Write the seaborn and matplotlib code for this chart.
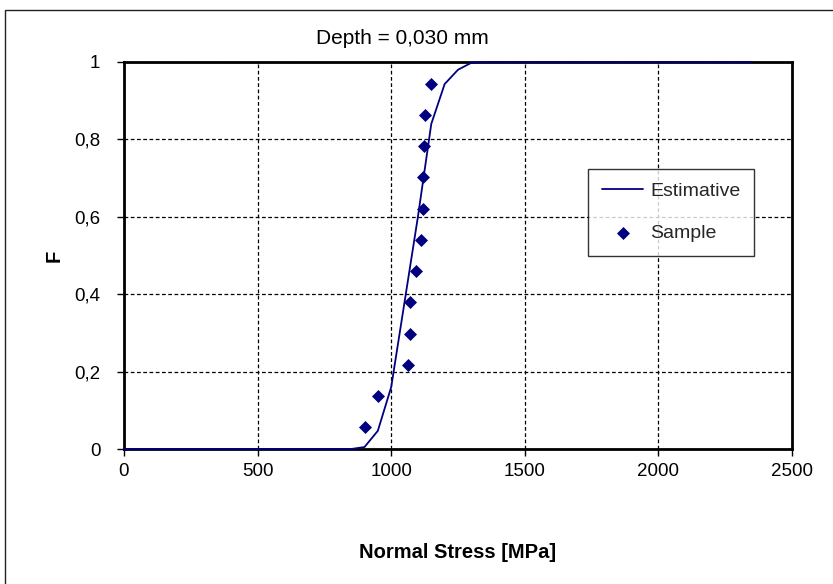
import matplotlib
matplotlib.use("Agg")
import matplotlib.pyplot as plt
from matplotlib.patches import Rectangle
from matplotlib.ticker import FuncFormatter
import seaborn as sns
import pandas as pd

# Estimative curve
est_stress = [0, 800, 850, 900, 950, 1000, 1050, 1100, 1150, 1200, 1250, 1300, 1350, 2350]
est_F = [0.0, 0.0, 0.0, 0.005, 0.047, 0.16, 0.38, 0.60, 0.84, 0.943, 0.98, 0.998, 1.0, 1.0]

# Sample points
sample_stress = [902, 952, 1064, 1070, 1070, 1092, 1110, 1120, 1120, 1124, 1126, 1148]
sample_F = [0.056, 0.137, 0.218, 0.298, 0.379, 0.46, 0.54, 0.621, 0.702, 0.782, 0.863, 0.944]

x_ticks = [0, 500, 1000, 1500, 2000, 2500]
y_ticks = [0, 0.2, 0.4, 0.6, 0.8, 1.0]

title = "Depth = 0,030 mm"
xlabel = "Normal Stress [MPa]"
ylabel = "F"

sns.set_theme(style="white")
plt.rcParams['font.family'] = ['Liberation Sans', 'DejaVu Sans']

W, H = 833, 584
fig = plt.figure(figsize=(W / 100, H / 100), dpi=100)
ax = fig.add_axes([124 / W, 1 - 449 / H, (792 - 124) / W, (449 - 62) / H])

navy = "#000080"
est_df = pd.DataFrame({"x": est_stress, "y": est_F})
smp_df = pd.DataFrame({"x": sample_stress, "y": sample_F})

sns.lineplot(data=est_df, x="x", y="y", ax=ax, color=navy, lw=1.3,
             label="Estimative", zorder=6, clip_on=False)
sns.scatterplot(data=smp_df, x="x", y="y", ax=ax, color=navy, marker="D",
                s=44, linewidth=0, label="Sample", zorder=7, clip_on=False)

ax.set_xlim(0, 2500)
ax.set_ylim(0, 1)
ax.set_xticks(x_ticks)
ax.set_yticks(y_ticks)

def comma_fmt(v, pos):
    if abs(v - round(v)) < 1e-9:
        return f"{int(round(v))}"
    return f"{v:.1f}".replace(".", ",")

ax.yaxis.set_major_formatter(FuncFormatter(comma_fmt))
ax.xaxis.set_major_formatter(FuncFormatter(lambda v, p: f"{int(v)}"))

ax.grid(True, color="black", linestyle=(0, (3, 2)), linewidth=0.9)
ax.set_axisbelow(True)
for sp in ax.spines.values():
    sp.set_visible(True)
    sp.set_color("black")
    sp.set_linewidth(2)
    sp.set_zorder(5)

ax.tick_params(axis="both", which="major", direction="out", length=5, width=1,
               color="black", labelsize=13.5, labelcolor="black", pad=5,
               bottom=True, left=True)
ax.tick_params(axis="y", pad=12)

fig.text(402 / W, 1 - 38 / H, title, fontsize=15, ha="center", va="center", color="black")
fig.text(458 / W, 1 - 552 / H, xlabel, fontsize=14.5, fontweight="bold",
         ha="center", va="center", color="black")
fig.text(54 / W, 1 - 256 / H, ylabel, fontsize=14.5, fontweight="bold", rotation=90,
         ha="center", va="center", color="black")
ax.set_xlabel("")
ax.set_ylabel("")

leg = ax.legend(loc="upper left", bbox_to_anchor=((588 - 124) / 668, 1 - (169 - 62) / 387),
                frameon=True, fancybox=False, edgecolor="black", fontsize=14,
                borderpad=0.7, labelspacing=1.25, handlelength=2.15, handletextpad=0.35,
                borderaxespad=0)
leg.get_frame().set_linewidth(1)
leg.get_frame().set_facecolor("white")
leg.set_zorder(8)

fig.patches.append(Rectangle((5 / W, -0.1), 2, 1.1 - 10 / H, transform=fig.transFigure,
                             fill=False, edgecolor="#222222", linewidth=1))

fig.savefig("out.png", dpi=100)
